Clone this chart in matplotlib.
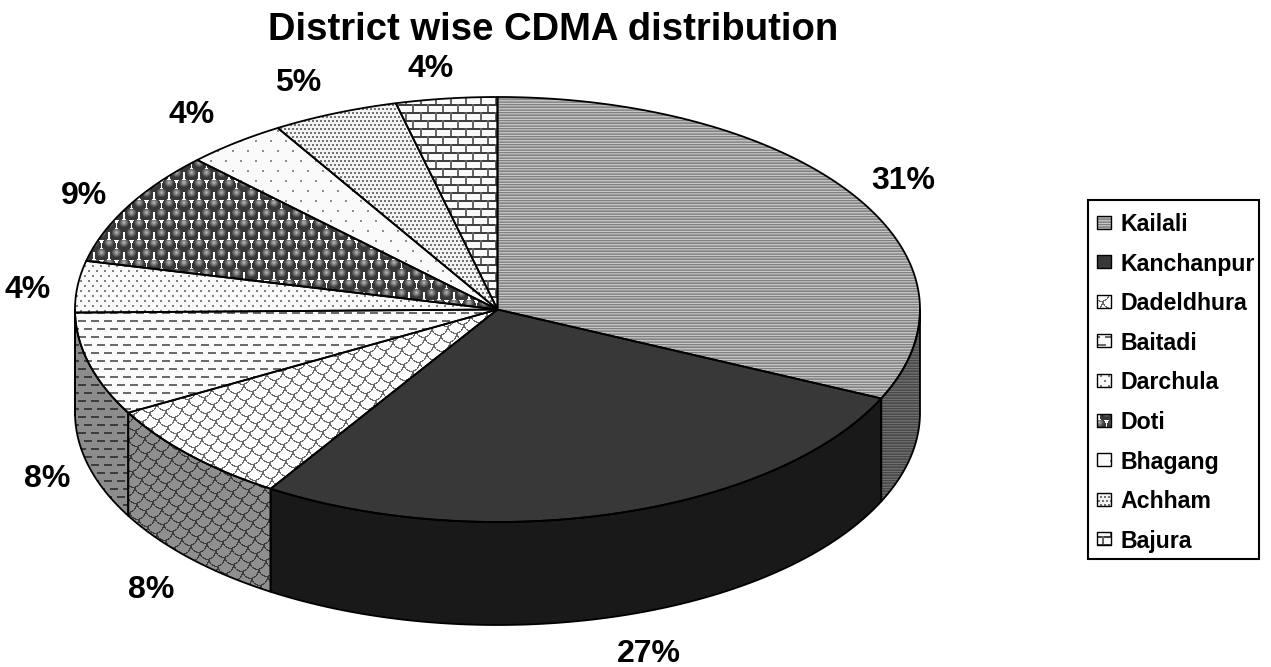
import numpy as np
import matplotlib
matplotlib.use('Agg')
import matplotlib.pyplot as plt
from matplotlib.patches import Polygon, Rectangle

plt.rcParams['font.family'] = ['Liberation Sans', 'DejaVu Sans']

districts = ['Kailali', 'Kanchanpur', 'Dadeldhura', 'Baitadi', 'Darchula',
             'Doti', 'Bhagang', 'Achham', 'Bajura']
shares = [31, 27, 8, 8, 4, 9, 4, 5, 4]

W, H = 1271, 667
CX, CY = 497.5, 309.5
RX, RY = 422.5, 212.5
DEPTH = 103
SHADE = 0.56


# fill patterns, one small grey tile each
def stripes():
    return np.array([[.50], [.72], [.60], [.52], [.75], [.62], [.54], [.78]])

def solid():
    return np.full((4, 4), 0.22)

def scales(n=130, r=8.3):
    # overlapping shingles on a slanted lattice, painted back to front
    t = np.ones((n, n))
    yy, xx = np.mgrid[0:n, 0:n]
    centres = []
    for i in range(-15, 30):
        for j in range(-15, 30):
            centres.append((i * 9 - j * 7, i * 7 + j * 9))
    centres = [c for c in centres if -12 < c[0] < n + 12 and -12 < c[1] < n + 12]
    centres.sort(key=lambda c: -(c[0] + c[1]))
    for cx, cy in centres:
        d = np.hypot(xx - cx, yy - cy)
        t[d < r] = 1.0
        t[(d >= r - 1.2) & (d < r)] = 0.42
    return t

def dashes(w=13, h=16):
    t = np.full((h, w), 0.98)
    t[0:2, 0:8] = 0.42
    t[8:10, 6:13] = 0.42
    t[8:10, 0:1] = 0.42
    return t

def dots(w, h, size, level, bg=0.98):
    t = np.full((h, w), bg)
    t[0:size, 0:size] = level
    t[h // 2:h // 2 + size, w // 2:w // 2 + size] = level
    return t

def spheres(w=15, h=20, r=6.9):
    t = np.ones((h, w))
    yy, xx = np.mgrid[0:h, 0:w]
    for cx, cy in [(3.5, 5), (18.5, 5), (11, 15), (-4, 15)]:
        d = np.hypot(xx - cx, yy - cy)
        glow = np.hypot(xx - cx, yy - cy + 3.0)
        ball = 0.22 + 0.5 * np.clip(1 - glow / 5.0, 0, 1)
        t[d < r] = ball[d < r]
    return t

def bricks(w=15, h=16):
    t = np.full((h, w), 0.98)
    t[0:2, :] = 0.25
    t[8:10, :] = 0.25
    t[0:8, 0:2] = 0.4
    t[8:16, 7:9] = 0.4
    return t

tiles = [stripes(), solid(), scales(), dashes(), dots(8, 10, 2, 0.5),
         spheres(), dots(15, 20, 2, 0.55), dots(4, 8, 2, 0.45, 0.95), bricks()]
side_tiles = [t * SHADE for t in tiles]
side_tiles[1] = np.full((4, 4), 0.10)


def pattern_fill(ax, pts, tile, lw=1.3):
    rows = H // tile.shape[0] + 1
    cols = W // tile.shape[1] + 1
    big = np.tile(tile, (rows, cols))
    im = ax.imshow(big, cmap='gray', vmin=0, vmax=1, interpolation='nearest',
                   extent=(0, big.shape[1], big.shape[0], 0), aspect='auto')
    outline = Polygon(pts, closed=True, fill=False, edgecolor='black',
                      linewidth=lw, joinstyle='round', zorder=5)
    ax.add_patch(outline)
    im.set_clip_path(outline)


def shown_angle(a):
    # the tilted view pushes the front slices round by a few degrees
    return a + 3.8 * np.sin(np.radians(a) / 2)


def rim(a):
    t = np.radians(a)
    return np.column_stack([CX + RX * np.sin(t), CY - RY * np.cos(t)])


fig = plt.figure(figsize=(W / 100, H / 100), dpi=100)
ax = fig.add_axes([0, 0, 1, 1])

edges = np.cumsum([0] + shares) / sum(shares) * 360

# side wall first, only the front half of the disc shows
for i in range(len(shares)):
    a0, a1 = shown_angle(edges[i]), shown_angle(edges[i + 1])
    s0, s1 = max(a0, 90), min(a1, 270)
    if s1 <= s0:
        continue
    arc = rim(np.linspace(s0, s1, 80))
    low = arc + [0, DEPTH]
    pattern_fill(ax, np.vstack([arc, low[::-1]]), side_tiles[i])

# top face
for i in range(len(shares)):
    a0, a1 = shown_angle(edges[i]), shown_angle(edges[i + 1])
    arc = rim(np.linspace(a0, a1, 120))
    pattern_fill(ax, np.vstack([[CX, CY], arc]), tiles[i])

label_xy = [(903, 181), (649, 654), (151, 590), (47, 479), (28, 290),
            (84, 196), (192, 115), (298, 83), (431, 69)]
for v, (x, y) in zip(shares, label_xy):
    ax.text(x, y, f'{v}%', ha='center', va='center', fontsize=23,
            fontweight='bold', color='black')

ax.text(553, 30, 'District wise CDMA distribution', ha='center', va='center',
        fontsize=27.5, fontweight='bold', color='black')

# legend box
ax.add_patch(Rectangle((1088, 200), 171, 359, fill=False, edgecolor='black', linewidth=1.5))
for i, name in enumerate(districts):
    y = 223 + i * 39.6
    sq = [(1097, y - 7.5), (1111, y - 7.5), (1111, y + 5.5), (1097, y + 5.5)]
    pattern_fill(ax, sq, tiles[i], lw=1.0)
    ax.text(1120.5, y + 1.5, name, ha='left', va='center', fontsize=16.7, fontweight='bold', color='black')

ax.set_xlim(0, W)
ax.set_ylim(H, 0)
ax.axis('off')

plt.savefig('out.png', dpi=100, facecolor='white')
